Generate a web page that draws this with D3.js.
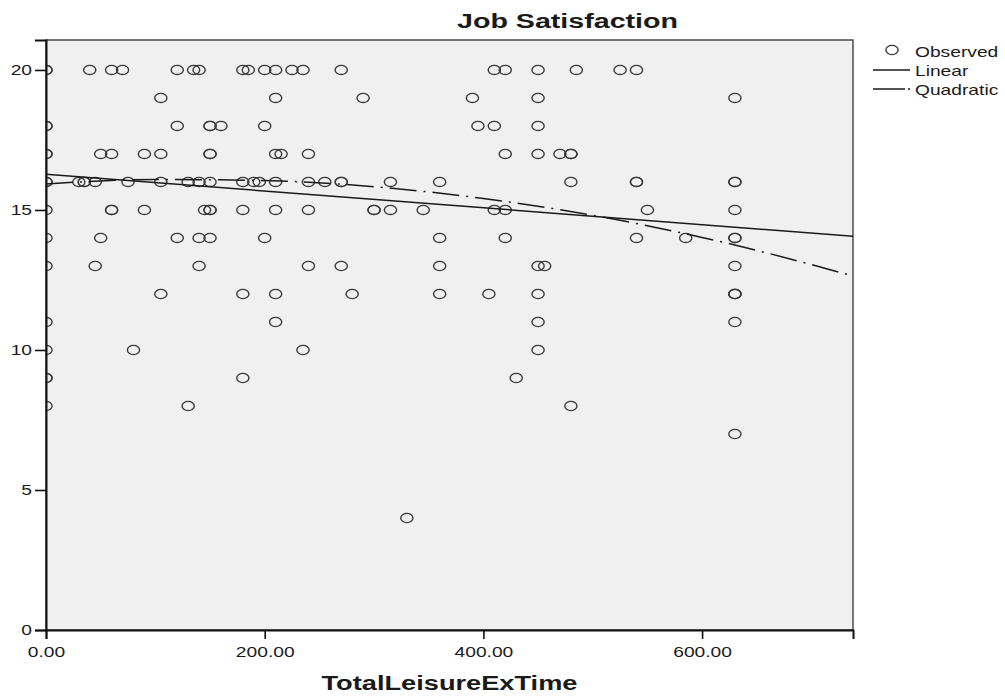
<!DOCTYPE html>
<html>
<head>
<meta charset="utf-8">
<script src="https://cdn.jsdelivr.net/npm/d3@7"></script>
<style>
  body { margin: 0; background: #fff; }
  svg text { font-family: Arial, "Liberation Sans", sans-serif; fill: #1a1a1a; }
</style>
</head>
<body>
<svg id="chart" width="1005" height="696"></svg>
<script>
// observed points, one array per Job Satisfaction value (x = TotalLeisureExTime)
var rowValues = [20, 19, 18, 17, 16, 15, 14, 13, 12, 11, 10, 9, 8, 7, 4];
var rowTimes = [
    [0, 0, 40, 60, 70, 120, 135, 140, 180, 185, 200, 210, 225, 235, 270, 410, 420, 450, 485, 525, 540],
    [105, 210, 290, 390, 450, 630],
    [0, 0, 120, 150, 150, 160, 200, 395, 410, 450],
    [0, 0, 50, 60, 90, 105, 150, 150, 210, 215, 240, 420, 450, 470, 480, 480],
    [0, 0, 30, 35, 35, 45, 75, 105, 130, 140, 150, 180, 190, 195, 210, 240, 255, 270, 270, 315, 360, 480, 540, 540, 630, 630],
    [0, 60, 60, 90, 145, 150, 150, 180, 210, 240, 300, 300, 315, 345, 410, 420, 550, 630],
    [0, 50, 120, 140, 150, 200, 360, 420, 540, 585, 630, 630],
    [0, 45, 140, 240, 270, 360, 450, 456, 630],
    [105, 180, 210, 280, 360, 405, 450, 630, 630, 630],
    [0, 210, 450, 630],
    [0, 80, 235, 450],
    [0, 0, 180, 430],
    [0, 130, 480],
    [630],
    [330]
];

// fitted curves
var linearX = [0, 738];
var linearY = [16.28, 14.06];
var quadX = [0, 100, 200, 300, 400, 500, 600, 700, 738];
var quadY = [15.93, 16.09, 16.05, 15.83, 15.41, 14.81, 14.02, 13.05, 12.64];

var xTicks = [0, 200, 400, 600];
var yTicks = [0, 5, 10, 15, 20];
var legendNames = ["Observed", "Linear", "Quadratic"];

var SX = 1.28; // the picture is stretched sideways

var svg = d3.select("#chart");
var plotL = 46, plotR = 853, plotT = 40, plotB = 630;

var x = d3.scaleLinear().domain([0, 738]).range([plotL, plotR]);
var y = d3.scaleLinear().domain([0, 21.07]).range([plotB, plotT]);

function stretch(sel)
{
    sel.each(function()
    {
        var w = this.getComputedTextLength();
        d3.select(this).attr("textLength", w * SX).attr("lengthAdjust", "spacingAndGlyphs");
    });
}

svg.append("clipPath").attr("id", "plotClip")
    .append("rect")
    .attr("x", plotL).attr("y", plotT)
    .attr("width", plotR - plotL).attr("height", plotB - plotT);

svg.append("rect")
    .attr("x", plotL).attr("y", plotT)
    .attr("width", plotR - plotL).attr("height", plotB - plotT)
    .attr("fill", "#f0f0f0")
    .attr("stroke", "#4a4a4a")
    .attr("stroke-width", 1.5);

var plot = svg.append("g").attr("clip-path", "url(#plotClip)");

var points = [];
rowValues.forEach(function(v, i)
{
    rowTimes[i].forEach(function(t) { points.push({ t: t, v: v }); });
});

plot.selectAll("ellipse.obs")
    .data(points)
    .enter().append("ellipse")
    .attr("class", "obs")
    .attr("cx", function(d) { return x(d.t); })
    .attr("cy", function(d) { return y(d.v); })
    .attr("rx", 6.1)
    .attr("ry", 4.6)
    .attr("fill", "none")
    .attr("stroke", "#3a3a3a")
    .attr("stroke-width", 1.4);

var line = d3.line()
    .x(function(d) { return x(d[0]); })
    .y(function(d) { return y(d[1]); });

plot.append("path")
    .datum(d3.zip(linearX, linearY))
    .attr("d", line)
    .attr("fill", "none")
    .attr("stroke", "#1a1a1a")
    .attr("stroke-width", 1.5);

plot.append("path")
    .datum(d3.zip(quadX, quadY))
    .attr("d", line.curve(d3.curveMonotoneX))
    .attr("fill", "none")
    .attr("stroke", "#1a1a1a")
    .attr("stroke-width", 1.5)
    .attr("stroke-dasharray", "27,7,2,7");

// axes
var yAxis = svg.append("g")
    .attr("transform", "translate(" + plotL + ",0)")
    .call(d3.axisLeft(y).tickValues(yTicks).tickSize(11).tickPadding(3).tickFormat(d3.format("d")));

var xAxis = svg.append("g")
    .attr("transform", "translate(0," + plotB + ")")
    .call(d3.axisBottom(x).tickValues(xTicks).tickSize(9).tickPadding(7).tickFormat(d3.format(".2f")));

[yAxis, xAxis].forEach(function(a)
{
    a.select(".domain").attr("stroke", "#111").attr("stroke-width", 2);
    a.selectAll(".tick line").attr("stroke", "#111").attr("stroke-width", 1.6);
    a.selectAll(".tick text")
        .style("font-size", "15px")
        .style("font-family", "Arial, 'Liberation Sans', sans-serif")
        .attr("fill", "#1a1a1a")
        .call(stretch);
});

// titles
svg.append("text")
    .attr("x", 567.5).attr("y", 28)
    .attr("text-anchor", "middle")
    .style("font-size", "20px").style("font-weight", "bold")
    .attr("textLength", 221).attr("lengthAdjust", "spacingAndGlyphs")
    .text("Job Satisfaction");

svg.append("text")
    .attr("x", (plotL + plotR) / 2).attr("y", 690)
    .attr("text-anchor", "middle")
    .style("font-size", "20px").style("font-weight", "bold")
    .attr("textLength", 256).attr("lengthAdjust", "spacingAndGlyphs")
    .text("TotalLeisureExTime");

// legend
var legend = svg.append("g");

legend.append("ellipse")
    .attr("cx", 892).attr("cy", 50)
    .attr("rx", 6.1).attr("ry", 4.6)
    .attr("fill", "none")
    .attr("stroke", "#3a3a3a")
    .attr("stroke-width", 1.4);

legend.append("line")
    .attr("x1", 873).attr("x2", 910).attr("y1", 70).attr("y2", 70)
    .attr("stroke", "#1a1a1a").attr("stroke-width", 1.5);

legend.append("line")
    .attr("x1", 873).attr("x2", 911).attr("y1", 89).attr("y2", 89)
    .attr("stroke", "#1a1a1a").attr("stroke-width", 1.5)
    .attr("stroke-dasharray", "32,3,2,20");

legend.selectAll("text.leg")
    .data(legendNames)
    .enter().append("text")
    .attr("class", "leg")
    .attr("x", 915)
    .attr("y", function(d, i) { return 57 + i * 19; })
    .style("font-size", "15px")
    .text(function(d) { return d; })
    .call(stretch);
</script>
</body>
</html>
